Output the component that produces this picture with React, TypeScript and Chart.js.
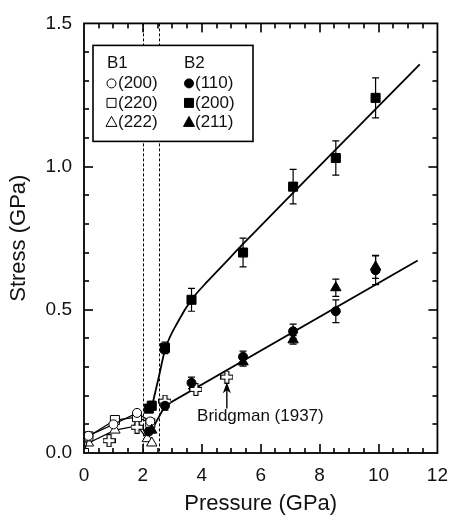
import React, { useEffect, useRef } from 'react';
import { Chart, registerables } from 'chart.js';

Chart.register(...registerables);

const FONT = '"Liberation Sans", Arial, Helvetica, sans-serif';

// ---- Data ----
// B1 phase (open symbols)
const b1_200_P = [0.15, 1.0, 1.8, 2.25];
const b1_200_S = [0.06, 0.1, 0.14, 0.11];
const b1_220_P = [0, 0.15, 1.05, 1.8, 2.25];
const b1_220_S = [0, 0.058, 0.115, 0.125, 0.105];
const b1_222_P = [0.15, 1.05, 1.8, 2.15, 2.3];
const b1_222_S = [0.035, 0.08, 0.095, 0.05, 0.035];

// B2 phase (filled symbols) with error bars
const b2_110_P = [2.2, 2.75, 3.65, 5.4, 7.1, 8.55, 9.9];
const b2_110_S = [0.075, 0.165, 0.245, 0.336, 0.425, 0.495, 0.638];
const b2_110_E = [0.01, 0.015, 0.02, 0.02, 0.025, 0.04, 0.05];
const b2_200_P = [2.2, 2.3, 2.75, 3.65, 5.4, 7.1, 8.55, 9.9];
const b2_200_S = [0.155, 0.165, 0.367, 0.535, 0.7, 0.93, 1.03, 1.24];
const b2_200_E = [0.01, 0.015, 0.02, 0.04, 0.05, 0.06, 0.06, 0.07];
const b2_211_P = [2.3, 5.4, 7.1, 8.55, 9.9];
const b2_211_S = [0.08, 0.318, 0.395, 0.577, 0.65];
const b2_211_E = [0.01, 0.015, 0.015, 0.03, 0.04];

// Bridgman (1937)
const bridgmanP = [0.85, 1.8, 2.75, 3.8, 4.85];
const bridgmanS = [0.043, 0.09, 0.181, 0.222, 0.265];

// Fit curves
const fitUpperP = [2.3, 2.55, 2.75, 3.2, 3.65, 4.2, 4.8, 5.45, 11.4];
const fitUpperS = [0.16, 0.27, 0.36, 0.46, 0.535, 0.6, 0.665, 0.735, 1.357];
const fitLowerP = [2.3, 2.75, 11.33];
const fitLowerS = [0.08, 0.165, 0.672];

// Phase boundary (dashed lines)
const dashedP = [2.02, 2.53];

// Axis
const xMin = 0, xMax = 12, xMajor = 2, xMinor = 0.5;
const yMin = 0, yMax = 1.5, yMajor = 0.5, yMinor = 0.1;

// Annotation
const annotText = 'Bridgman (1937)';
const annotTextAt = { x: 3.84, y: 0.129 };
const annotArrowX = 4.85;
const annotArrowFrom = 0.155;
const annotArrowTo = 0.247;

// Legend
const legendB1Labels = ['(200)', '(220)', '(222)'];
const legendB2Labels = ['(110)', '(200)', '(211)'];

const xy = (xs: number[], ys: number[]) => xs.map((x, i) => ({ x, y: ys[i] }));

function makePlus(): HTMLCanvasElement {
  const c = document.createElement('canvas');
  c.width = 13;
  c.height = 13;
  const g = c.getContext('2d')!;
  g.beginPath();
  const pts = [
    [4.5, 0.5], [8.5, 0.5], [8.5, 4.5], [12.5, 4.5], [12.5, 8.5], [8.5, 8.5],
    [8.5, 12.5], [4.5, 12.5], [4.5, 8.5], [0.5, 8.5], [0.5, 4.5], [4.5, 4.5],
  ];
  pts.forEach(([px, py], i) => (i ? g.lineTo(px, py) : g.moveTo(px, py)));
  g.closePath();
  g.fillStyle = '#fff';
  g.fill();
  g.strokeStyle = '#000';
  g.lineWidth = 1.2;
  g.stroke();
  return c;
}

function drawMarker(ctx: CanvasRenderingContext2D, kind: string, filled: boolean, cx: number, cy: number) {
  ctx.save();
  ctx.beginPath();
  if (kind === 'circle') {
    ctx.arc(cx, cy, 4.5, 0, Math.PI * 2);
  } else if (kind === 'rect') {
    ctx.rect(cx - 4.5, cy - 4.5, 9, 9);
  } else {
    ctx.moveTo(cx, cy - 5.5);
    ctx.lineTo(cx + 5.5, cy + 4.5);
    ctx.lineTo(cx - 5.5, cy + 4.5);
    ctx.closePath();
  }
  ctx.fillStyle = filled ? '#000' : '#fff';
  ctx.fill();
  ctx.strokeStyle = '#000';
  ctx.lineWidth = 1;
  ctx.stroke();
  ctx.restore();
}

export default function App() {
  const ref = useRef<HTMLCanvasElement>(null);

  useEffect(() => {
    const canvas = ref.current!;
    const plus = makePlus();

    const openPt = (style: string, r: number) => ({
      pointStyle: style,
      pointRadius: r,
      pointBackgroundColor: '#fff',
      pointBorderColor: '#000',
      pointBorderWidth: 1,
      borderColor: '#000',
      borderWidth: 1.2,
      showLine: true,
      tension: 0,
    });
    const filledPt = (style: string, r: number) => ({
      pointStyle: style,
      pointRadius: r,
      pointBackgroundColor: '#000',
      pointBorderColor: '#000',
      pointBorderWidth: 1,
      showLine: false,
    });

    const datasets: any[] = [
      { label: 'B2 (200)', data: xy(b2_200_P, b2_200_S), ...filledPt('rect', 6.4), order: 1 },
      { label: 'B2 (110)', data: xy(b2_110_P, b2_110_S), ...filledPt('circle', 4.5), order: 1 },
      { label: 'B2 (211)', data: xy(b2_211_P, b2_211_S), ...filledPt('triangle', 6), order: 1 },
      { label: 'Bridgman', data: xy(bridgmanP, bridgmanS), pointStyle: plus, pointRadius: 6, showLine: false, order: 2 },
      { label: 'B1 (200)', data: xy(b1_200_P, b1_200_S), ...openPt('circle', 4.5), order: 3 },
      { label: 'B1 (220)', data: xy(b1_220_P, b1_220_S), ...openPt('rect', 6.4), order: 3 },
      { label: 'B1 (222)', data: xy(b1_222_P, b1_222_S), ...openPt('triangle', 6), order: 3 },
      {
        label: 'fit upper', data: xy(fitUpperP, fitUpperS), showLine: true, pointRadius: 0,
        borderColor: '#000', borderWidth: 1.8, cubicInterpolationMode: 'monotone', order: 10,
      },
      {
        label: 'fit lower', data: xy(fitLowerP, fitLowerS), showLine: true, pointRadius: 0,
        borderColor: '#000', borderWidth: 1.8, tension: 0, order: 10,
      },
    ];

    const errorSets: { ds: number; errs: number[] }[] = [
      { ds: 0, errs: b2_200_E },
      { ds: 1, errs: b2_110_E },
      { ds: 2, errs: b2_211_E },
    ];

    const decor = {
      id: 'decor',
      beforeDatasetsDraw(chart: any) {
        const { ctx, chartArea: a, scales } = chart;
        const xs = scales.x, ys = scales.y;
        ctx.save();
        ctx.strokeStyle = '#000';
        ctx.lineWidth = 1;
        ctx.setLineDash([3, 2]);
        for (const p of dashedP) {
          const px = Math.round(xs.getPixelForValue(p)) + 0.5;
          ctx.beginPath();
          ctx.moveTo(px, a.top);
          ctx.lineTo(px, a.bottom);
          ctx.stroke();
        }
        ctx.setLineDash([]);
        ctx.lineWidth = 1.2;
        for (const es of errorSets) {
          const meta = chart.getDatasetMeta(es.ds);
          const d = chart.data.datasets[es.ds].data;
          meta.data.forEach((el: any, i: number) => {
            const e = es.errs[i];
            const px = el.x;
            const y1 = ys.getPixelForValue(d[i].y + e);
            const y2 = ys.getPixelForValue(d[i].y - e);
            ctx.beginPath();
            ctx.moveTo(px, y1);
            ctx.lineTo(px, y2);
            ctx.moveTo(px - 3.5, y1);
            ctx.lineTo(px + 3.5, y1);
            ctx.moveTo(px - 3.5, y2);
            ctx.lineTo(px + 3.5, y2);
            ctx.stroke();
          });
        }
        ctx.restore();
      },
      afterDraw(chart: any) {
        const { ctx, chartArea: a, scales } = chart;
        const xs = scales.x, ys = scales.y;
        ctx.save();
        ctx.setLineDash([]);
        ctx.strokeStyle = '#000';
        ctx.fillStyle = '#000';
        ctx.lineWidth = 1.8;
        ctx.strokeRect(a.left, a.top, a.right - a.left, a.bottom - a.top);
        // ticks (inward on all four sides)
        const nx = Math.round((xMax - xMin) / xMinor);
        const every = Math.round(xMajor / xMinor);
        for (let i = 1; i < nx; i++) {
          const v = xMin + i * xMinor;
          const px = Math.round(xs.getPixelForValue(v));
          const len = i % every === 0 ? 9 : 5;
          ctx.fillRect(px - 0.8, a.bottom - len, 1.6, len);
          ctx.fillRect(px - 0.8, a.top, 1.6, len);
        }
        const ny = Math.round((yMax - yMin) / yMinor);
        const everyY = Math.round(yMajor / yMinor);
        for (let i = 1; i < ny; i++) {
          const v = yMin + i * yMinor;
          const py = Math.round(ys.getPixelForValue(v));
          const len = i % everyY === 0 ? 9 : 5;
          ctx.fillRect(a.left, py - 0.8, len, 1.6);
          ctx.fillRect(a.right - len, py - 0.8, len, 1.6);
        }
        // annotation
        const ax = xs.getPixelForValue(annotArrowX);
        const ayFrom = ys.getPixelForValue(annotArrowFrom);
        const ayTo = ys.getPixelForValue(annotArrowTo);
        ctx.lineWidth = 1.4;
        ctx.beginPath();
        ctx.moveTo(ax, ayFrom);
        ctx.lineTo(ax, ayTo + 4);
        ctx.stroke();
        ctx.beginPath();
        ctx.moveTo(ax, ayTo);
        ctx.lineTo(ax - 4, ayTo + 11);
        ctx.lineTo(ax, ayTo + 8);
        ctx.lineTo(ax + 4, ayTo + 11);
        ctx.closePath();
        ctx.fillStyle = '#000';
        ctx.fill();
        ctx.font = `17px ${FONT}`;
        ctx.textBaseline = 'middle';
        ctx.textAlign = 'left';
        ctx.fillStyle = '#111';
        ctx.fillText(annotText, xs.getPixelForValue(annotTextAt.x), ys.getPixelForValue(annotTextAt.y));
        // legend
        const lx = a.left + 9, ly = a.top + 22, lw = 160, lh = 96;
        ctx.lineWidth = 1.6;
        ctx.strokeStyle = '#000';
        ctx.fillStyle = '#fff';
        ctx.fillRect(lx, ly, lw, lh);
        ctx.strokeRect(lx, ly, lw, lh);
        ctx.fillStyle = '#111';
        ctx.font = `17px ${FONT}`;
        ctx.fillText('B1', lx + 14, ly + 18);
        ctx.fillText('B2', lx + 91, ly + 18);
        const kinds = ['circle', 'rect', 'triangle'];
        const rowY = [ly + 38, ly + 57.5, ly + 76.5];
        for (let r = 0; r < 3; r++) {
          drawMarker(ctx, kinds[r], false, lx + 18.5, rowY[r]);
          drawMarker(ctx, kinds[r], true, lx + 96, rowY[r]);
          ctx.fillStyle = '#111';
          ctx.fillText(legendB1Labels[r], lx + 25, rowY[r]);
          ctx.fillText(legendB2Labels[r], lx + 102, rowY[r]);
        }
        ctx.restore();
      },
    };

    const chart = new Chart(canvas, {
      type: 'scatter',
      data: { datasets },
      options: {
        animation: false,
        responsive: false,
        devicePixelRatio: 1,
        layout: { padding: { left: 0, right: 12, top: 22, bottom: 0 } },
        plugins: { legend: { display: false }, tooltip: { enabled: false } },
        scales: {
          x: {
            type: 'linear',
            min: xMin,
            max: xMax,
            grid: { display: false, drawTicks: false },
            border: { display: false },
            ticks: {
              stepSize: xMajor,
              padding: 11,
              color: '#111',
              font: { family: FONT, size: 19 },
              callback: (v: any) => String(v),
            },
            title: {
              display: true,
              text: 'Pressure (GPa)',
              color: '#111',
              font: { family: FONT, size: 22 },
              padding: { top: 0, bottom: 6 },
            },
            afterFit: (s: any) => { s.height = 70; },
          },
          y: {
            type: 'linear',
            min: yMin,
            max: yMax,
            grid: { display: false, drawTicks: false },
            border: { display: false },
            ticks: {
              stepSize: yMajor,
              padding: 12,
              color: '#111',
              font: { family: FONT, size: 19 },
              callback: (v: any) => Number(v).toFixed(1),
            },
            title: {
              display: true,
              text: 'Stress (GPa)',
              color: '#111',
              font: { family: FONT, size: 22 },
              padding: { top: 6, bottom: 0 },
            },
            afterFit: (s: any) => { s.width = 84; },
          },
        },
      },
      plugins: [decor],
    });
    return () => chart.destroy();
  }, []);

  return (
    <div style={{ position: 'fixed', left: 0, top: 0, width: 459, height: 523, background: '#fff' }}>
      <canvas ref={ref} width={459} height={523} style={{ width: 459, height: 523, display: 'block' }} />
    </div>
  );
}
